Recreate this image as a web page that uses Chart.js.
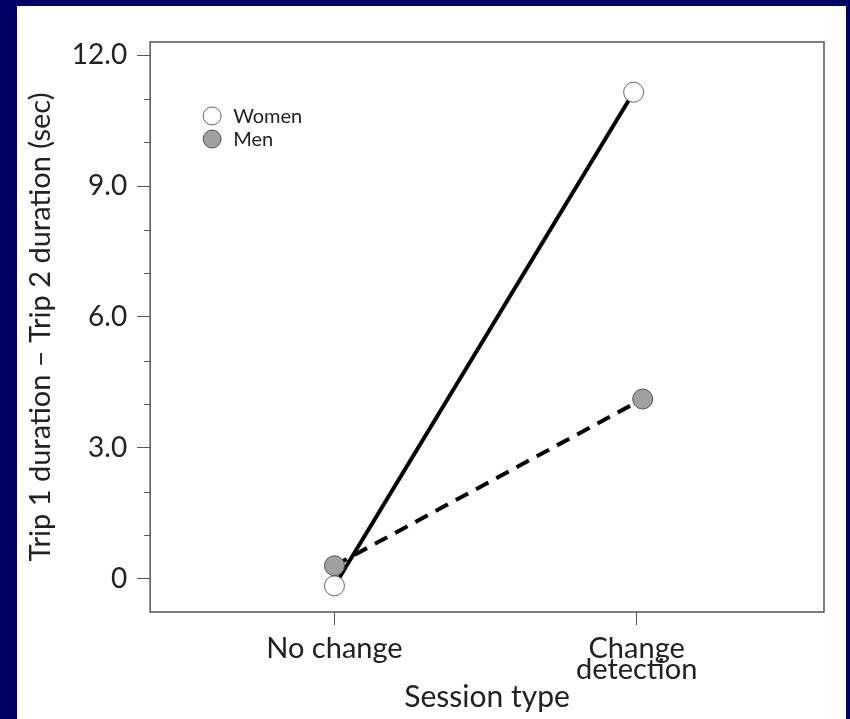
<!DOCTYPE html>
<html>
<head>
<meta charset="utf-8">
<script src="https://cdn.jsdelivr.net/npm/chart.js@4.4.1/dist/chart.umd.min.js"></script>
<style>
  html, body { margin: 0; padding: 0; background: #000066; }
  #wrap { width: 850px; height: 719px; }
</style>
</head>
<body>
<div id="wrap"><canvas id="chart"></canvas></div>
<script>
// values
const sessions = ['No change', ['Change', 'detection']]
const sessionX = [1, 2]
const womenX = [1, 1.99]
const womenTime = [-0.16, 11.15]
const menX = [1, 2.02]
const menTime = [0.3, 4.12]
const yMajor = [0, 3, 6, 9, 12]
const yMinor = [1, 2, 4, 5, 7, 8, 10, 11]

const FONT = 'Lato, "Open Sans", sans-serif'
const INK = '#222'

// navy frame, box round the plot, short minor ticks, legend in the corner
const framePlugin = {
  id: 'frame',
  beforeDraw(chart) {
    const ctx = chart.ctx
    ctx.save()
    ctx.fillStyle = '#000066'
    ctx.fillRect(0, 0, chart.width, chart.height)
    ctx.fillStyle = '#fff'
    ctx.fillRect(17, 6, chart.width - 21, chart.height - 6)
    ctx.restore()
  },
  afterDraw(chart) {
    const ctx = chart.ctx
    const a = chart.chartArea
    const y = chart.scales.y
    ctx.save()
    ctx.strokeStyle = '#555'
    ctx.lineWidth = 1.5
    ctx.strokeRect(a.left, a.top, a.right - a.left, a.bottom - a.top)
    ctx.lineWidth = 1
    yMinor.forEach(v => {
      const py = Math.round(y.getPixelForValue(v)) + 0.5
      ctx.beginPath()
      ctx.moveTo(a.left - 6, py)
      ctx.lineTo(a.left, py)
      ctx.stroke()
    })
    // legend
    ctx.font = '20px ' + FONT
    ctx.textBaseline = 'middle'
    chart.data.datasets.slice().reverse().forEach((ds, i) => {
      const cx = a.left + 62
      const cy = a.top + 74 + i * 23
      ctx.beginPath()
      ctx.arc(cx, cy, 9, 0, Math.PI * 2)
      ctx.fillStyle = ds.pointBackgroundColor
      ctx.fill()
      ctx.strokeStyle = ds.pointBorderColor
      ctx.lineWidth = 1
      ctx.stroke()
      ctx.fillStyle = INK
      ctx.fillText(ds.label, cx + 21, cy + 1)
    })
    ctx.restore()
  }
}

const ctx = document.getElementById('chart')
const myChart = new Chart(ctx, {
  type: 'line',
  data: {
    datasets: [
      {
        label: 'Men',
        data: menX.map((x, i) => ({ x: x, y: menTime[i] })),
        borderColor: '#000',
        borderWidth: 4,
        borderDash: [14, 9],
        pointRadius: 10,
        pointBackgroundColor: '#a0a0a0',
        pointBorderColor: '#555',
        pointBorderWidth: 1,
        fill: false
      },
      {
        label: 'Women',
        data: womenX.map((x, i) => ({ x: x, y: womenTime[i] })),
        borderColor: '#000',
        borderWidth: 4,
        pointRadius: 10,
        pointBackgroundColor: '#fff',
        pointBorderColor: '#666',
        pointBorderWidth: 1,
        fill: false
      }
    ]
  },
  options: {
    responsive: true,
    maintainAspectRatio: false,
    animation: false,
    devicePixelRatio: 1,
    layout: { padding: { top: 42, right: 26, left: 23, bottom: 4 } },
    plugins: { legend: { display: false }, tooltip: { enabled: false } },
    scales: {
      x: {
        type: 'linear',
        min: 0.39,
        max: 2.62,
        afterBuildTicks: s => { s.ticks = sessionX.map(v => ({ value: v })) },
        afterFit: s => { s.height = 103 },
        ticks: {
          callback: v => sessions[sessionX.indexOf(v)],
          color: INK,
          font: { family: FONT, size: 29, lineHeight: 0.72 },
          padding: 13,
          maxRotation: 0,
          autoSkip: false
        },
        grid: { drawOnChartArea: false, tickLength: 13, color: '#555' },
        border: { display: false },
        title: {
          display: true,
          text: 'Session type',
          color: INK,
          font: { family: FONT, size: 30 },
          padding: { top: 0, bottom: 0 }
        }
      },
      y: {
        min: -0.76,
        max: 12.3,
        afterBuildTicks: s => { s.ticks = yMajor.map(v => ({ value: v })) },
        ticks: {
          callback: v => v === 0 ? '0' : v.toFixed(1),
          color: INK,
          font: { family: FONT, size: 28 },
          padding: 10
        },
        grid: { drawOnChartArea: false, tickLength: 13, color: '#555' },
        border: { display: false },
        title: {
          display: true,
          text: 'Trip 1 duration \u2013 Trip 2 duration (sec)',
          color: INK,
          font: { family: FONT, size: 29 },
          padding: { top: 0, bottom: 4 }
        }
      }
    }
  },
  plugins: [framePlugin]
})
</script>
</body>
</html>
